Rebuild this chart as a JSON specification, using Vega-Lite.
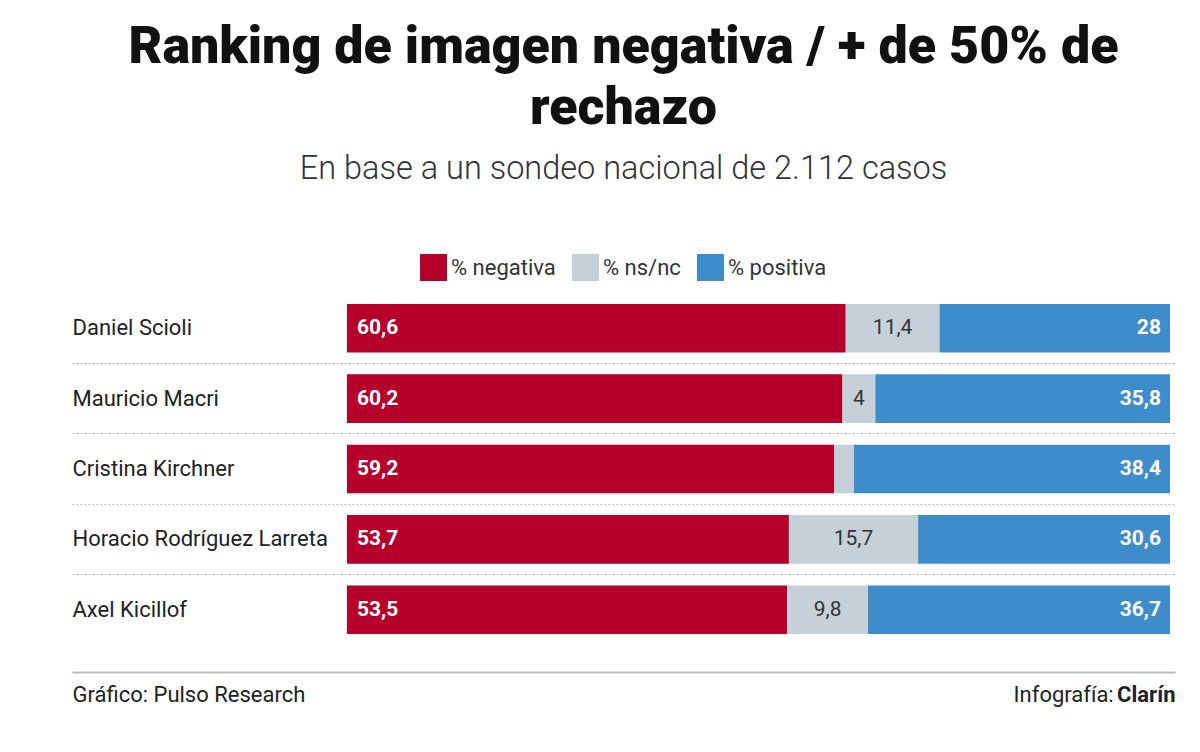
{
  "$schema": "https://vega.github.io/schema/vega-lite/v6.json",
  "width": 1103,
  "height": 352,
  "padding": {"left": 72, "right": 25, "top": 20, "bottom": 10},
  "background": "white",
  "title": {
    "text": ["Ranking de imagen negativa / + de 50% de", "rechazo"],
    "subtitle": "En base a un sondeo nacional de 2.112 casos",
    "anchor": "middle",
    "font": "Roboto",
    "fontSize": 52,
    "fontWeight": 900,
    "color": "#111111",
    "lineHeight": 61,
    "subtitleFont": "Roboto",
    "subtitleFontSize": 32.5,
    "subtitleFontWeight": 300,
    "subtitleColor": "#333333",
    "subtitlePadding": 18,
    "offset": 68
  },
  "data": {
    "values": [
      {"name": "Daniel Scioli", "tipo": "% negativa", "k": 1, "value": 60.6},
      {"name": "Daniel Scioli", "tipo": "% ns/nc", "k": 2, "value": 11.4},
      {"name": "Daniel Scioli", "tipo": "% positiva", "k": 3, "value": 28},
      {"name": "Mauricio Macri", "tipo": "% negativa", "k": 1, "value": 60.2},
      {"name": "Mauricio Macri", "tipo": "% ns/nc", "k": 2, "value": 4},
      {"name": "Mauricio Macri", "tipo": "% positiva", "k": 3, "value": 35.8},
      {"name": "Cristina Kirchner", "tipo": "% negativa", "k": 1, "value": 59.2},
      {"name": "Cristina Kirchner", "tipo": "% ns/nc", "k": 2, "value": 2.4},
      {"name": "Cristina Kirchner", "tipo": "% positiva", "k": 3, "value": 38.4},
      {"name": "Horacio Rodríguez Larreta", "tipo": "% negativa", "k": 1, "value": 53.7},
      {"name": "Horacio Rodríguez Larreta", "tipo": "% ns/nc", "k": 2, "value": 15.7},
      {"name": "Horacio Rodríguez Larreta", "tipo": "% positiva", "k": 3, "value": 30.6},
      {"name": "Axel Kicillof", "tipo": "% negativa", "k": 1, "value": 53.5},
      {"name": "Axel Kicillof", "tipo": "% ns/nc", "k": 2, "value": 9.8},
      {"name": "Axel Kicillof", "tipo": "% positiva", "k": 3, "value": 36.7}
    ]
  },
  "encoding": {
    "y": {
      "field": "name",
      "type": "nominal",
      "sort": ["Daniel Scioli", "Mauricio Macri", "Cristina Kirchner", "Horacio Rodríguez Larreta", "Axel Kicillof"],
      "scale": {"paddingInner": 0, "paddingOuter": 0},
      "axis": {
        "title": null,
        "orient": "left",
        "domain": false,
        "ticks": false,
        "labelAlign": "left",
        "labelPadding": 0,
        "labelFont": "Roboto",
        "labelFontSize": 22,
        "labelColor": "#222222",
        "labelLimit": 320,
        "bandPosition": 0,
        "labelOffset": 0,
        "labelBaseline": "middle",
        "grid": true,
        "gridDash": [2, 2],
        "gridColor": "#b8b8b8",
        "gridWidth": 1,
        "gridOpacity": {"condition": {"test": "datum.value === 'Daniel Scioli'", "value": 0}, "value": 1}
      }
    },
    "x": {
      "field": "value",
      "type": "quantitative",
      "stack": "zero",
      "scale": {"domain": [-33.41, 100.61], "nice": false, "zero": false},
      "axis": {
        "orient": "bottom",
        "offset": 27,
        "title": null,
        "grid": false,
        "ticks": false,
        "domain": true,
        "domainColor": "#bdbdbd",
        "domainWidth": 2,
        "values": [-33.41, 93.1, 100.61],
        "labelExpr": "datum.value < 0 ? 'Gráfico: Pulso Research' : datum.value > 100 ? 'Clarín' : 'Infografía:'",
        "labelAlign": {"condition": {"test": "datum.value < 0", "value": "left"}, "value": "right"},
        "labelFontWeight": {"condition": {"test": "datum.value > 100", "value": "bold"}, "value": "normal"},
        "labelFont": "Roboto",
        "labelFontSize": 22,
        "labelColor": "#222222",
        "labelPadding": 12,
        "labelLimit": 400,
        "labelOverlap": false,
        "labelBound": false,
        "labelFlush": false
      }
    },
    "order": {"field": "k", "type": "quantitative", "sort": "ascending"}
  },
  "layer": [
    {
      "mark": {"type": "bar", "height": {"band": 0.69}},
      "encoding": {
        "color": {
          "field": "tipo",
          "type": "nominal",
          "scale": {"domain": ["% negativa", "% ns/nc", "% positiva"], "range": ["#B4002B", "#C6D0D8", "#3E8CCA"]},
          "legend": {
            "orient": "top",
            "direction": "horizontal",
            "title": null,
            "symbolType": "square",
            "symbolSize": 729,
            "symbolStrokeWidth": 0,
            "symbolOpacity": 1,
            "labelFont": "Roboto",
            "labelFontSize": 22,
            "labelColor": "#333333",
            "columnPadding": 16,
            "labelOffset": 4,
            "offset": 12
          }
        }
      }
    },
    {
      "mark": {"type": "text", "align": "left", "baseline": "middle", "dx": 10, "font": "Roboto", "fontSize": 21, "fontWeight": "bold", "color": "white"},
      "encoding": {
        "x": {"field": "value", "type": "quantitative", "stack": "zero", "bandPosition": 0},
        "text": {"field": "value", "type": "quantitative", "format": ".1~f"},
        "opacity": {"condition": {"test": "datum.k === 1", "value": 1}, "value": 0}
      }
    },
    {
      "mark": {"type": "text", "align": "center", "baseline": "middle", "font": "Roboto", "fontSize": 21, "color": "#333333"},
      "encoding": {
        "x": {"field": "value", "type": "quantitative", "stack": "zero", "bandPosition": 0.5},
        "text": {"field": "value", "type": "quantitative", "format": ".1~f"},
        "opacity": {"condition": {"test": "datum.k === 2 && datum.value >= 3", "value": 1}, "value": 0}
      }
    },
    {
      "mark": {"type": "text", "align": "right", "baseline": "middle", "dx": -9, "font": "Roboto", "fontSize": 21, "fontWeight": "bold", "color": "white"},
      "encoding": {
        "text": {"field": "value", "type": "quantitative", "format": ".1~f"},
        "opacity": {"condition": {"test": "datum.k === 3", "value": 1}, "value": 0}
      }
    }
  ],
  "config": {
    "view": {"stroke": null},
    "locale": {"number": {"decimal": ",", "thousands": ".", "grouping": [3], "currency": ["$", ""]}},
    "legend": {"layout": {"top": {"anchor": "middle"}}}
  }
}
